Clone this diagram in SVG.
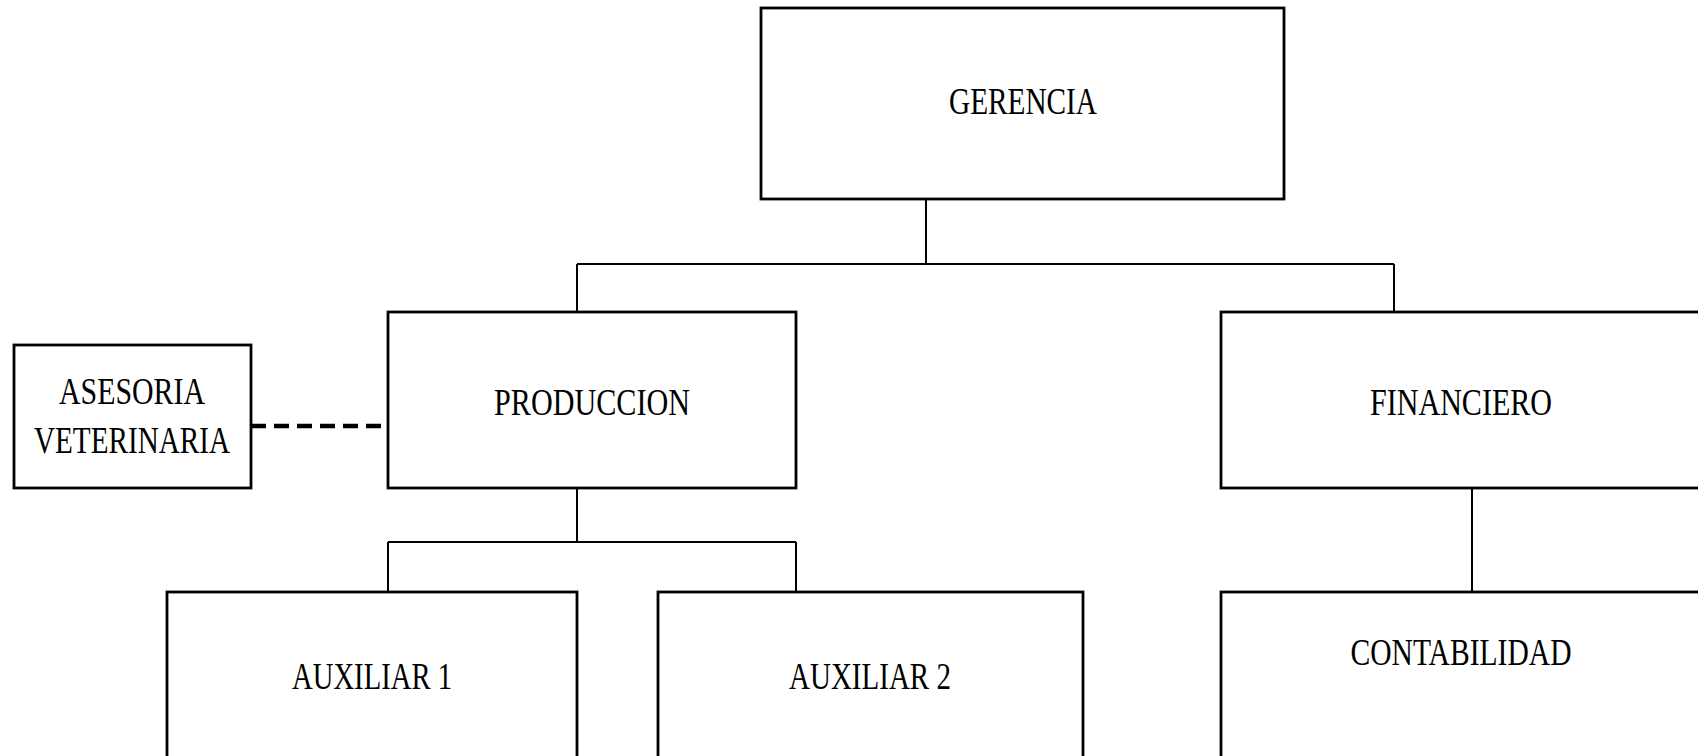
<svg xmlns="http://www.w3.org/2000/svg" width="1698" height="756" viewBox="0 0 1698 756">
<style>
.box{fill:#fff;stroke:#000;stroke-width:2.8}
.lbl{font-family:"Liberation Serif","Times New Roman",serif;font-size:37px;fill:#000;text-anchor:middle}
.con{fill:none;stroke:#000;stroke-width:2}
.dash{fill:none;stroke:#000;stroke-width:4.5;stroke-dasharray:15 8}
</style>
<rect width="1698" height="756" fill="#fff"/>
<g id="connectors">
<path class="con" d="M926 199 V264 M577 264 H1394 M577 264 V312 M1394 264 V312"/>
<path class="con" d="M577 488 V542 M388 542 H796 M388 542 V592 M796 542 V592"/>
<path class="con" d="M1472 488 V592"/>
<path class="dash" d="M251 426 H388"/>
</g>
<g id="gerencia">
<rect class="box" x="761" y="8" width="523" height="191"/>
<text class="lbl" x="1023" y="114" textLength="148" lengthAdjust="spacingAndGlyphs">GERENCIA</text>
</g>
<g id="produccion">
<rect class="box" x="388" y="312" width="408" height="176"/>
<text class="lbl" x="592" y="415" textLength="196" lengthAdjust="spacingAndGlyphs">PRODUCCION</text>
</g>
<g id="financiero">
<rect class="box" x="1221" y="312" width="500" height="176"/>
<text class="lbl" x="1461" y="415" textLength="182" lengthAdjust="spacingAndGlyphs">FINANCIERO</text>
</g>
<g id="asesoria">
<rect class="box" x="14" y="345" width="237" height="143"/>
<text class="lbl" x="132" y="404" textLength="146" lengthAdjust="spacingAndGlyphs">ASESORIA</text>
<text class="lbl" x="132" y="453" textLength="196" lengthAdjust="spacingAndGlyphs">VETERINARIA</text>
</g>
<g id="auxiliar1">
<rect class="box" x="167" y="592" width="410" height="200"/>
<text class="lbl" x="372" y="689" textLength="160" lengthAdjust="spacingAndGlyphs">AUXILIAR 1</text>
</g>
<g id="auxiliar2">
<rect class="box" x="658" y="592" width="425" height="200"/>
<text class="lbl" x="870" y="689" textLength="162" lengthAdjust="spacingAndGlyphs">AUXILIAR 2</text>
</g>
<g id="contabilidad">
<rect class="box" x="1221" y="592" width="500" height="200"/>
<text class="lbl" x="1461" y="665" textLength="221" lengthAdjust="spacingAndGlyphs">CONTABILIDAD</text>
</g>
</svg>
